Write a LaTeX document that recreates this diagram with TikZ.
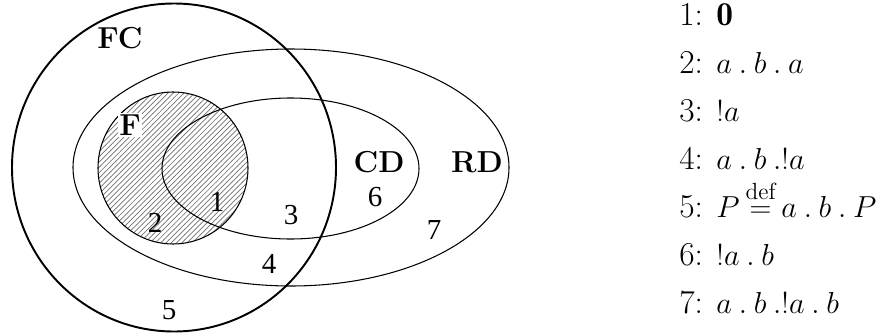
\documentclass[tikz,border=0pt]{standalone}
\usepackage{amsmath, amssymb}
\usepackage{fontspec}
\newfontfamily\regnum{Liberation Serif}
\usetikzlibrary{patterns}
\tikzset{
  every picture/.style={line cap=round, line join=round},
  setline/.style={line width=0.6pt},
  outer/.style={line width=1.1pt},
  hatch/.style={pattern=north east lines, pattern color=black!55},
  setname/.style={font=\LARGE\bfseries, inner sep=1pt},
  region/.style={font=\regnum\fontsize{16.5}{18}\selectfont, inner sep=0pt},
  proc/.style={anchor=base west, font=\fontsize{19}{23}\selectfont, inner sep=0pt},
}
\newcommand{\pd}{\mkern4mu.\mkern4mu}
\newcommand{\pdl}{\mkern4mu.}
\newcommand{\bang}{\mathord{!}}
\newcommand{\defeq}{\mkern-1.5mu\stackrel{\mathrm{def}}{=}\mkern-1.5mu}

\begin{document}
\begin{tikzpicture}[x=0.02cm, y=-0.02cm]
  \useasboundingbox (0,0) rectangle (893,335);
  % ---- sets
  \fill[hatch] (173,168) ellipse [x radius=75, y radius=76];
  \draw[setline] (173,168) ellipse [x radius=75, y radius=76];
  \draw[setline] (291,167.5) ellipse [x radius=218, y radius=118.5];
  \draw[setline] (290.5,168.5) ellipse [x radius=128.5, y radius=70.5];
  \draw[outer] (174,167.5) ellipse [x radius=162, y radius=164];
  % ---- set names
  \node[setname] (fc) at (120,38) {FC};
  \node[setname, fill=white] (f) at (130,125) {F};
  \node[setname] (cd) at (379,162) {CD};
  \node[setname] (rd) at (477,162) {RD};
  % ---- regions
  \node[region] (r1) at (217,202) {1};
  \node[region] (r2) at (155,223) {2};
  \node[region] (r3) at (291,215) {3};
  \node[region] (r4) at (269,264) {4};
  \node[region] (r5) at (169,310) {5};
  \node[region] (r6) at (375,197) {6};
  \node[region] (r7) at (434,230) {7};
  % ---- processes per region
  \node[proc] (p1) at (679,25) {1: $\mathbf{0}$};
  \node[proc] (p2) at (679,73) {2: $a\pd b\pd a$};
  \node[proc] (p3) at (679,121) {3: $\bang a$};
  \node[proc] (p4) at (679,169) {4: $a\pd b\pdl\bang a$};
  \node[proc] (p5) at (679,217) {5: $P\defeq a\pd b\pd P$};
  \node[proc] (p6) at (679,265) {6: $\bang a\pd b$};
  \node[proc] (p7) at (679,313) {7: $a\pd b\pdl\bang a\pd b$};
\end{tikzpicture}
\end{document}
